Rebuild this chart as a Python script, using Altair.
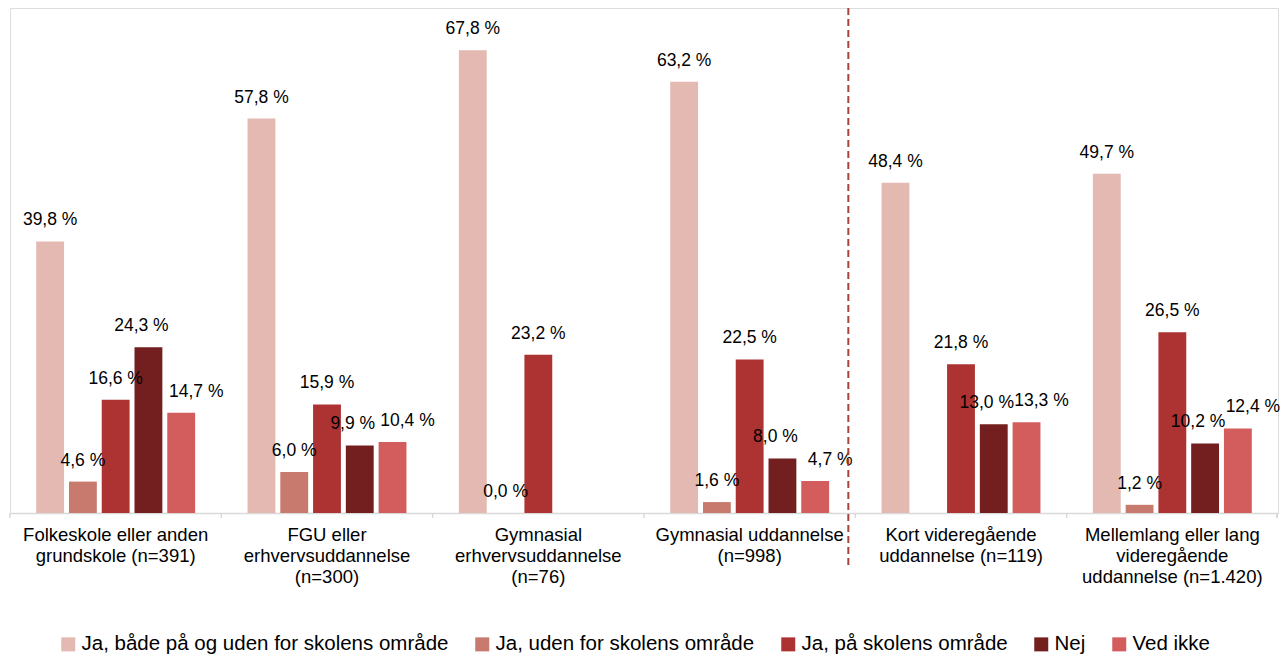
import altair as alt
import pandas as pd

categories = [
    "Folkeskole eller anden|grundskole (n=391)",
    "FGU eller|erhvervsuddannelse|(n=300)",
    "Gymnasial|erhvervsuddannelse|(n=76)",
    "Gymnasial uddannelse|(n=998)",
    "Kort videregående|uddannelse (n=119)",
    "Mellemlang eller lang|videregående|uddannelse (n=1.420)",
]
series = [
    "Ja, både på og uden for skolens område",
    "Ja, uden for skolens område",
    "Ja, på skolens område",
    "Nej",
    "Ved ikke",
]
colors = ["#E3B9B2", "#C77A6D", "#AD3232", "#731F1F", "#D35C5C"]

ja_begge = [39.8, 57.8, 67.8, 63.2, 48.4, 49.7]
ja_uden = [4.6, 6.0, 0.0, 1.6, None, 1.2]
ja_paa = [16.6, 15.9, 23.2, 22.5, 21.8, 26.5]
nej = [24.3, 9.9, None, 8.0, 13.0, 10.2]
ved_ikke = [14.7, 10.4, None, 4.7, 13.3, 12.4]

rows = []
for s, vals in zip(series, [ja_begge, ja_uden, ja_paa, nej, ved_ikke]):
    for c, v in zip(categories, vals):
        if v is None:
            continue
        rows.append({"cat": c, "serie": s, "value": v,
                     "label": f"{v:.1f} %".replace(".", ",")})
df = pd.DataFrame(rows)

W, H = 1268, 505

xenc = alt.X("cat:N", sort=categories,
             scale=alt.Scale(domain=categories, paddingInner=0, paddingOuter=0),
             axis=alt.Axis(title=None, labelAngle=0, labelFontSize=18.5, labelFont="Liberation Sans",
                           labelColor="#000000", labelLineHeight=21, labelPadding=12,
                           labelExpr="split(datum.label, '|')", ticks=False, tickSize=0,
                           domainColor="#D9D9D9", domainWidth=1.5, labelLimit=300))
xoff = alt.XOffset("serie:N", sort=series,
                   scale=alt.Scale(domain=series, paddingInner=0.15, paddingOuter=0.8))
yenc = alt.Y("value:Q", scale=alt.Scale(domain=[0, 74], nice=False, zero=True), axis=None)

base = alt.Chart(df)

bars = base.mark_bar().encode(
    x=xenc, xOffset=xoff, y=yenc,
    color=alt.Color("serie:N", sort=series,
                    scale=alt.Scale(domain=series, range=colors),
                    legend=alt.Legend(title=None, orient="none", direction="horizontal",
                                      legendX=48, legendY=626, symbolType="square",
                                      symbolSize=196, symbolStrokeWidth=0, symbolOpacity=1,
                                      labelFontSize=20.5, labelFont="Liberation Sans",
                                      labelColor="#000000", columnPadding=23, labelOffset=3,
                                      padding=0, labelLimit=600)),
)

text_style = dict(fontSize=17.5, font="Liberation Sans", color="#000000", baseline="middle", dy=-21)
labels_main = base.transform_filter(
    alt.FieldOneOfPredicate(field="serie", oneOf=series[:3])
).mark_text(**text_style).encode(
    x=alt.X("cat:N", sort=categories), xOffset=xoff, y=yenc, text="label:N")
labels_nej = base.transform_filter(
    alt.FieldEqualPredicate(field="serie", equal="Nej")
).mark_text(dx=-7, **text_style).encode(
    x=alt.X("cat:N", sort=categories), xOffset=xoff, y=yenc, text="label:N")
labels_ved = base.transform_filter(
    alt.FieldEqualPredicate(field="serie", equal="Ved ikke")
).mark_text(dx=15, **text_style).encode(
    x=alt.X("cat:N", sort=categories), xOffset=xoff, y=yenc, text="label:N")

cat_df = pd.DataFrame({"cat": categories})
ticks = alt.Chart(cat_df).mark_rule(color="#D9D9D9", strokeWidth=1.5).encode(
    x=alt.X("cat:N", sort=categories, bandPosition=0),
    y=alt.value(H), y2=alt.value(H + 5))
end_tick = alt.Chart(cat_df).mark_rule(color="#D9D9D9", strokeWidth=1.5).encode(
    x=alt.value(W - 0.75), y=alt.value(H), y2=alt.value(H + 5))

sep_df = pd.DataFrame({"cat": [categories[4]]})
separator = alt.Chart(sep_df).mark_rule(color="#A5433D", strokeWidth=2,
                                        strokeDash=[7, 4], xOffset=-7).encode(
    x=alt.X("cat:N", sort=categories, bandPosition=0),
    y=alt.value(0), y2=alt.value(557))

chart = alt.layer(bars, labels_main, labels_nej, labels_ved, ticks, end_tick, separator).properties(
    width=W, height=H,
    padding={"left": 2, "top": 0, "right": 2, "bottom": 143},
    autosize=alt.AutoSizeParams(type="none"),
).configure_view(stroke=None).configure(font="Liberation Sans")

chart.save("out.html", embed_options={"renderer": "svg", "actions": False})
